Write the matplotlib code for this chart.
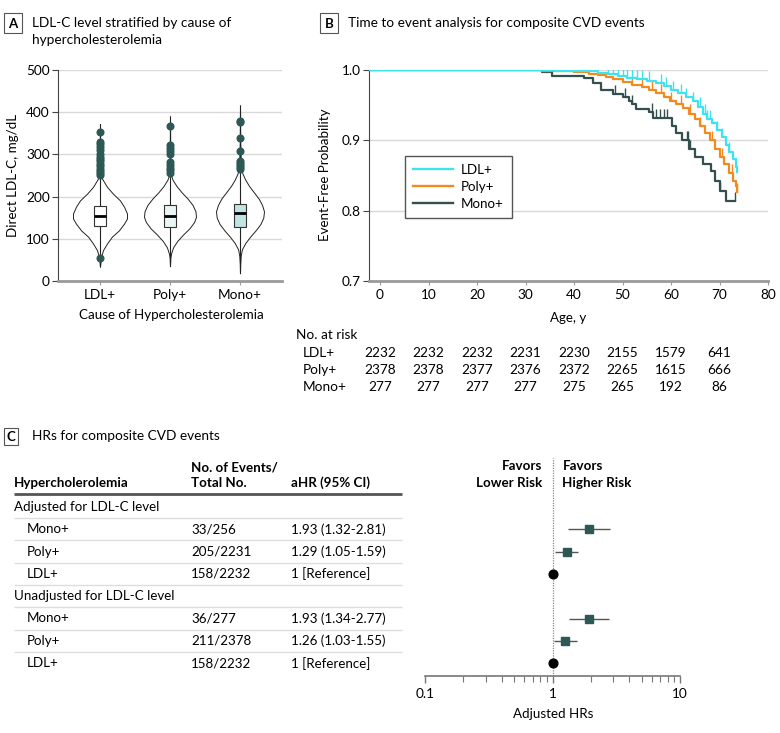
import numpy as np
import matplotlib
matplotlib.use("Agg")
import matplotlib.pyplot as plt
from matplotlib.patches import Rectangle
from matplotlib.lines import Line2D
from matplotlib.transforms import blended_transform_factory

plt.rcParams['font.family'] = ['Lato', 'DejaVu Sans']

W, H = 780, 733

#%% panel A data
groups = ["LDL+", "Poly+", "Mono+"]
box_q1 = [131, 129, 128]
box_med = [154, 154, 161]
box_q3 = [178, 181, 182]
tail_lo = [34, 35, 18]
tail_hi = [372, 390, 416]
outliers = [
    [352, 330, 325, 318, 310, 302, 295, 290, 285, 278, 272, 265, 260, 255, 250, 55],
    [368, 322, 315, 308, 300, 282, 275, 268, 262, 256],
    [380, 376, 340, 309, 285, 280, 275, 270, 266],
]
# violin outlines: level (mg/dL) and relative density
viol_y = [
    [34, 57, 73, 89, 105, 120, 136, 148, 160, 176, 191, 207, 223, 239, 246, 300, 372],
    [35, 55, 65, 80, 95, 110, 125, 140, 152, 165, 180, 195, 210, 225, 240, 250, 300, 390],
    [18, 40, 60, 75, 90, 105, 120, 135, 150, 165, 180, 195, 210, 225, 240, 255, 270, 330, 416],
]
viol_d = [
    [0, 0.04, 0.11, 0.26, 0.44, 0.70, 0.89, 1.0, 1.0, 0.89, 0.74, 0.48, 0.26, 0.11, 0.04, 0.01, 0],
    [0, 0.015, 0.04, 0.12, 0.28, 0.50, 0.75, 0.93, 1.0, 0.98, 0.87, 0.68, 0.45, 0.25, 0.10, 0.04, 0.01, 0],
    [0, 0.01, 0.03, 0.08, 0.22, 0.42, 0.65, 0.85, 0.97, 1.0, 0.92, 0.78, 0.58, 0.38, 0.22, 0.10, 0.04, 0.01, 0],
]

#%% panel B data
km_ldl_t = [0, 36, 42, 45, 47, 49, 51, 53, 55, 57, 58.5, 60, 61.5, 63, 64.5, 65.5, 66.5, 67.5, 68.5,
            69.5, 70.5, 71.3, 72, 72.8, 73.3, 73.7]
km_ldl_s = [1.0, 0.999, 0.998, 0.996, 0.994, 0.992, 0.989, 0.987, 0.985, 0.981, 0.977, 0.972, 0.967,
            0.962, 0.956, 0.948, 0.938, 0.930, 0.924, 0.915, 0.905, 0.893, 0.884, 0.874, 0.862, 0.855]
km_poly_t = [0, 33.5, 36, 40, 43, 45, 46.5, 48, 50, 52, 54, 55.5, 57, 58.5, 59.8, 61, 62.5, 63.8, 65,
             66, 67, 68, 69, 70, 71, 72, 72.8, 73.3, 73.7]
km_poly_s = [1.0, 0.999, 0.998, 0.997, 0.995, 0.993, 0.990, 0.987, 0.983, 0.979, 0.976, 0.972, 0.967,
             0.962, 0.956, 0.951, 0.946, 0.938, 0.930, 0.920, 0.910, 0.900, 0.888, 0.876, 0.866,
             0.853, 0.842, 0.835, 0.826]
km_mono_t = [0, 33.5, 35.5, 42, 44, 45.5, 48, 50, 51.3, 52, 52.8, 55.5, 56.3, 60.3, 61, 62.3, 63.8, 65,
             66.5, 68.3, 69, 70, 71.3, 73.2]
km_mono_s = [1.0, 0.997, 0.992, 0.989, 0.982, 0.971, 0.966, 0.961, 0.956, 0.951, 0.945, 0.940, 0.932,
             0.920, 0.911, 0.900, 0.888, 0.876, 0.866, 0.857, 0.842, 0.828, 0.814, 0.814]
cens_ldl = [47, 48, 49, 50, 51, 52, 53, 54, 55.5, 58, 59, 60.5, 62, 63, 64.5, 66, 67, 67.5, 68,
            69.5, 70.5, 72, 73.5]
cens_poly = [52, 54, 56, 58, 60, 62, 64, 66, 68.5, 70.5, 72.5, 73.7]
cens_mono = [48.5, 50.5, 52, 56, 57, 57.7, 58.5, 59.2, 63.2, 63.6, 64, 70, 73.2]

risk_ages = [0, 10, 20, 30, 40, 50, 60, 70]
risk_ldl = [2232, 2232, 2232, 2231, 2230, 2155, 1579, 641]
risk_poly = [2378, 2378, 2377, 2376, 2372, 2265, 1615, 666]
risk_mono = [277, 277, 277, 277, 275, 265, 192, 86]

#%% panel C data
sub_groups = ["Mono+", "Poly+", "LDL+"]
adj_events = ["33/256", "205/2231", "158/2232"]
adj_hr = [1.93, 1.29, 1.0]
adj_lo = [1.32, 1.05, np.nan]
adj_hi = [2.81, 1.59, np.nan]
unadj_events = ["36/277", "211/2378", "158/2232"]
unadj_hr = [1.93, 1.26, 1.0]
unadj_lo = [1.34, 1.03, np.nan]
unadj_hi = [2.77, 1.55, np.nan]

#%% helpers for pixel layout
def rect(x0, y0, x1, y1):
    return [x0 / W, 1 - y1 / H, (x1 - x0) / W, (y1 - y0) / H]

fig = plt.figure(figsize=(W / 100, H / 100), dpi=100)

def ftext(x, y, s, **kw):
    kw.setdefault("va", "center")
    fig.text(x / W, 1 - y / H, s, **kw)

def panel_tag(x0, y0, x1, y1, s):
    fig.add_artist(Rectangle((x0 / W, 1 - y1 / H), (x1 - x0) / W, (y1 - y0) / H,
                             transform=fig.transFigure, fill=False, ec="#555555", lw=0.8))
    ftext((x0 + x1) / 2, (y0 + y1) / 2 + 0.5, s, ha="center", fontsize=9.5, fontweight="bold")

TXT = 9.6      # table / labels
TTL = 9.8      # panel titles
TCK = 9.8      # tick labels
DARK = "#2c5856"

#%% panel A
panel_tag(4, 13, 22, 33, "A")
ftext(32, 23, "LDL-C level stratified by cause of", fontsize=TTL)
ftext(32, 40, "hypercholesterolemia", fontsize=TTL)

axA = fig.add_axes(rect(58, 70, 282, 281))
axA.set_xlim(-0.6, 2.6)
axA.set_ylim(0, 500)
axA.set_yticks([0, 100, 200, 300, 400, 500])
axA.yaxis.grid(True, color="#d9d9d9", lw=1)
axA.set_axisbelow(True)
for sp in ["top", "right"]:
    axA.spines[sp].set_visible(False)
axA.spines["left"].set_color("#444444")
axA.spines["left"].set_linewidth(0.8)
axA.spines["bottom"].set_color("#9a9a9a")
axA.spines["bottom"].set_linewidth(2)
axA.tick_params(axis="y", length=4, width=0.8, color="#444444", labelsize=TCK, pad=2)
axA.tick_params(axis="x", length=3, width=0.8, color="#9a9a9a", labelsize=TCK, pad=3)
axA.set_xticks(range(3))
axA.set_xticklabels(groups)

half_w = [27 / 70, 26 / 70, 24 / 70]
box_fc = ["white", "#eaf6f6", "#bfe4e3"]
for i in range(3):
    y = np.array(viol_y[i])
    d = np.array(viol_d[i]) * half_w[i]
    axA.fill_betweenx(y, i - d, i + d, fc="white", ec="#222222", lw=0.7, zorder=2)
    axA.vlines(i, tail_lo[i], tail_hi[i], color="#222222", lw=0.8, zorder=2.5)
    st = dict(med=box_med[i], q1=box_q1[i], q3=box_q3[i], whislo=box_q1[i], whishi=box_q3[i],
              fliers=outliers[i])
    axA.bxp([st], positions=[i], widths=0.17, patch_artist=True, manage_ticks=False, zorder=3,
            boxprops=dict(facecolor=box_fc[i], edgecolor="#333333", lw=0.8),
            medianprops=dict(color="black", lw=2),
            whiskerprops=dict(lw=0), capprops=dict(lw=0),
            flierprops=dict(marker="o", mfc=DARK, mec=DARK, ms=4.8))

ftext(13, 175, "Direct LDL-C, mg/dL", ha="center", rotation=90, fontsize=TXT)
ftext(171, 315, "Cause of Hypercholesterolemia", ha="center", fontsize=TXT)

#%% panel B
panel_tag(320, 13, 338, 33, "B")
ftext(348, 23, "Time to event analysis for composite CVD events", fontsize=TTL)

axB = fig.add_axes(rect(369, 70, 768, 281))
axB.set_xlim(-2.27, 80)
axB.set_ylim(0.7, 1.0)
axB.set_xticks(range(0, 81, 10))
axB.set_yticks([0.7, 0.8, 0.9, 1.0])
axB.set_yticklabels(["0.7", "0.8", "0.9", "1.0"])
axB.yaxis.grid(True, color="#d9d9d9", lw=1)
axB.set_axisbelow(True)
for sp in ["top", "right"]:
    axB.spines[sp].set_visible(False)
axB.spines["left"].set_color("#444444")
axB.spines["left"].set_linewidth(0.8)
axB.spines["bottom"].set_color("#9a9a9a")
axB.spines["bottom"].set_linewidth(2)
axB.tick_params(axis="y", length=4, width=0.8, color="#444444", labelsize=TCK, pad=2)
axB.tick_params(axis="x", length=3, width=0.8, color="#9a9a9a", labelsize=TCK, pad=3)

xmin = axB.get_xlim()[0]
curves = [
    ("Mono+", km_mono_t, km_mono_s, cens_mono, "#33504e"),
    ("Poly+", km_poly_t, km_poly_s, cens_poly, "#f28a20"),
    ("LDL+", km_ldl_t, km_ldl_s, cens_ldl, "#3fe3ef"),
]
handles = {}
for name, t, s, cens, col in curves:
    t = np.array(t)
    s = np.array(s)
    axB.step(np.r_[xmin, t], np.r_[s[0], s], where="post", color=col, lw=1.6, zorder=3)
    idx = np.searchsorted(t, cens, side="right") - 1
    cs = s[idx]
    axB.vlines(cens, cs, cs + 0.013, color=col, lw=1.0, zorder=3)
    handles[name] = Line2D([], [], color=col, lw=1.7)

axB.legend([handles[n] for n in ["LDL+", "Poly+", "Mono+"]], ["LDL+", "Poly+", "Mono+"],
           loc="upper left", bbox_to_anchor=(405 / W, 1 - 156 / H), bbox_transform=fig.transFigure,
           borderaxespad=0, fancybox=False, edgecolor="#555555", framealpha=1, fontsize=TXT,
           handlelength=3.0, labelspacing=0.38, borderpad=0.6, handletextpad=0.6)

ftext(325, 175, "Event-Free Probability", ha="center", rotation=90, fontsize=TXT)
ftext(568, 318, "Age, y", ha="center", fontsize=TXT)

tr = blended_transform_factory(axB.transData, fig.transFigure)
ftext(296, 335, "No. at risk", fontsize=TCK)
for name, vals, yy in [("LDL+", risk_ldl, 353), ("Poly+", risk_poly, 370), ("Mono+", risk_mono, 387)]:
    ftext(303, yy, name, fontsize=TCK)
    for a, v in zip(risk_ages, vals):
        axB.text(a, 1 - yy / H, str(v), transform=tr, ha="center", va="center", fontsize=TCK)

#%% panel C
panel_tag(4, 428, 18, 445, "C")
ftext(32, 436, "HRs for composite CVD events", fontsize=TTL)

row_y0, row_dy = 507, 22.3
ylo = (676 - row_y0) / row_dy
yhi = (458 - row_y0) / row_dy

axT = fig.add_axes(rect(0, 458, 420, 676))
axT.set_xlim(0, 420)
axT.set_ylim(ylo, yhi)
axT.axis("off")

def rowpos(py):
    return (py - row_y0) / row_dy

axT.text(14, rowpos(483), "Hypercholerolemia", fontweight="bold", fontsize=TXT, va="center")
axT.text(191, rowpos(467), "No. of Events/", fontweight="bold", fontsize=TXT, va="center")
axT.text(191, rowpos(483), "Total No.", fontweight="bold", fontsize=TXT, va="center")
axT.text(291, rowpos(483), "aHR (95% CI)", fontweight="bold", fontsize=TXT, va="center")
axT.hlines(rowpos(494), 14, 402, color="#555555", lw=2)
axT.hlines(np.arange(7) + 0.5, 14, 402, color="#dddddd", lw=1)

def ci_label(h, lo, hi):
    if np.isnan(lo):
        return "1 [Reference]"
    return f"{h:.2f} ({lo:.2f}-{hi:.2f})"

blocks = [("Adjusted for LDL-C level", adj_events, adj_hr, adj_lo, adj_hi),
          ("Unadjusted for LDL-C level", unadj_events, unadj_hr, unadj_lo, unadj_hi)]

axF = fig.add_axes(rect(425, 458, 680, 676))
axF.set_xscale("log")
axF.set_xlim(0.1, 10)
axF.set_ylim(ylo, yhi)
for sp in ["top", "right", "left"]:
    axF.spines[sp].set_visible(False)
axF.spines["bottom"].set_color("#777777")
axF.spines["bottom"].set_linewidth(1.2)
axF.set_yticks([])
axF.set_xticks([0.1, 1, 10])
axF.set_xticklabels(["0.1", "1", "10"])
axF.tick_params(axis="x", which="major", length=5, width=1, color="#777777", labelsize=TCK, pad=4)
axF.tick_params(axis="x", which="minor", length=4, width=0.8, color="#777777")
axF.axvline(1, color="#888888", ls=(0, (1, 1)), lw=0.9, zorder=1)

r = 0
for title, ev, hr, lo, hi in blocks:
    axT.text(14, r, title, fontsize=TXT, va="center")
    r += 1
    for g, e, h, l, u in zip(sub_groups, ev, hr, lo, hi):
        axT.text(27, r, g, fontsize=TXT, va="center")
        axT.text(191, r, e, fontsize=TXT, va="center")
        axT.text(291, r, ci_label(h, l, u), fontsize=TXT, va="center")
        if np.isnan(l):
            axF.plot(h, r, "o", color="black", ms=6.3, zorder=4)
        else:
            axF.hlines(r, l, u, color="#555555", lw=1, zorder=2)
            axF.plot(h, r, "s", color=DARK, ms=5.2, zorder=4)
        r += 1

for txt, py, dx, ha in [("Favors", 466, -10, "right"), ("Lower Risk", 483, -10, "right"),
                        ("Favors", 466, 10, "left"), ("Higher Risk", 483, 10, "left")]:
    axF.annotate(txt, xy=(1, rowpos(py)), xytext=(dx, 0), textcoords="offset pixels",
                 ha=ha, va="center", fontweight="bold", fontsize=TXT)
ftext(553, 714, "Adjusted HRs", ha="center", fontsize=TXT)

fig.savefig("out.png", dpi=100)
